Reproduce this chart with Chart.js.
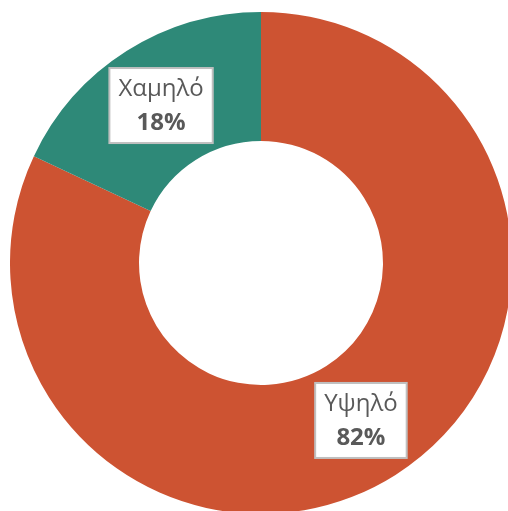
<!DOCTYPE html>
<html>
<head>
<meta charset="utf-8">
<script src="https://cdn.jsdelivr.net/npm/chart.js@4"></script>
<style>
  html, body { margin: 0; padding: 0; background: #fff; overflow: hidden; width: 508px; height: 511px; }
  #wrap { position: absolute; left: 10px; top: 12px; width: 502px; height: 502px; }
</style>
</head>
<body>
<div id="wrap"><canvas id="chart" width="502" height="502"></canvas></div>
<script>
// Data
const labels = ["Υψηλό", "Χαμηλό"];
const values = [82, 18];
const colors = ["#CD5332", "#2E8978"];

// Boxed labels in the middle of each ring slice
const boxLabels = {
  id: "boxLabels",
  afterDatasetsDraw(chart) {
    const ctx = chart.ctx;
    const meta = chart.getDatasetMeta(0);
    const total = values.reduce((a, b) => a + b, 0);
    meta.data.forEach(function(arc, i) {
      const pos = arc.tooltipPosition();
      const name = labels[i];
      const pct = Math.round(values[i] / total * 100) + "%";
      ctx.save();
      ctx.font = "24px 'Open Sans'";
      const w1 = ctx.measureText(name).width;
      ctx.font = "bold 24px 'Open Sans'";
      const w2 = ctx.measureText(pct).width;
      const w = Math.max(w1, w2) + 18;
      const h = 75;
      ctx.fillStyle = "#fff";
      ctx.strokeStyle = "#bfbfbf";
      ctx.lineWidth = 2;
      ctx.fillRect(pos.x - w / 2, pos.y - h / 2, w, h);
      ctx.strokeRect(pos.x - w / 2, pos.y - h / 2, w, h);
      ctx.fillStyle = "#595959";
      ctx.textAlign = "center";
      ctx.textBaseline = "middle";
      ctx.font = "24px 'Open Sans'";
      ctx.fillText(name, pos.x, pos.y - 16);
      ctx.font = "bold 24px 'Open Sans'";
      ctx.fillText(pct, pos.x, pos.y + 18);
      ctx.restore();
    });
  }
};

new Chart(document.getElementById("chart"), {
  type: "doughnut",
  data: {
    labels: labels,
    datasets: [{
      data: values,
      backgroundColor: colors,
      borderWidth: 0
    }]
  },
  options: {
    responsive: false,
    animation: false,
    cutout: "48.6%",
    layout: { padding: 0 },
    plugins: {
      legend: { display: false },
      tooltip: { enabled: false }
    }
  },
  plugins: [boxLabels]
});
</script>
</body>
</html>
